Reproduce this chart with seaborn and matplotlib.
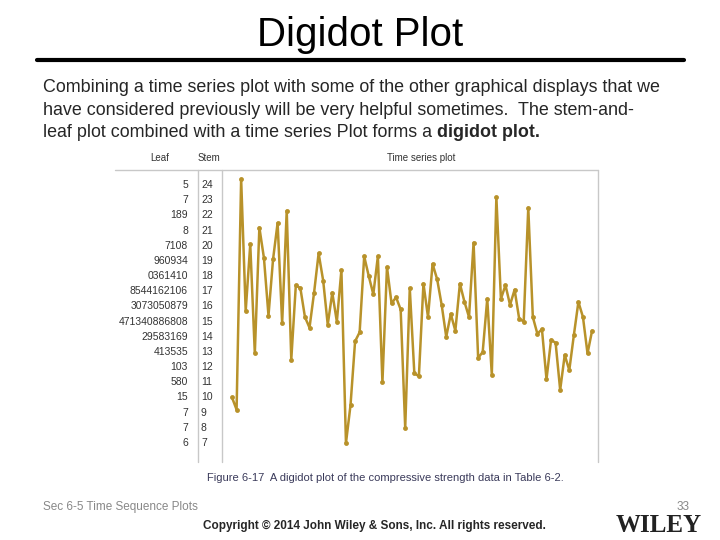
import matplotlib
matplotlib.use("Agg")
import matplotlib.pyplot as plt
import seaborn as sns
import pandas as pd

# compressive strength readings (x10), in time order
strength = [10.0, 9.2, 24.4, 15.7, 20.1, 12.9, 21.2, 19.2, 15.4, 19.1,
            21.5, 14.9, 22.3, 12.5, 17.4, 17.2, 15.3, 14.6, 16.9, 19.5,
            17.7, 14.8, 16.9, 15.0, 18.4, 7.0, 9.5, 13.7, 14.3, 19.3,
            18.0, 16.8, 19.3, 11.0, 18.6, 16.2, 16.6, 15.8, 8.0, 17.2,
            11.6, 11.4, 17.5, 15.3, 18.8, 17.8, 16.1, 14.0, 15.5, 14.4,
            17.5, 16.3, 15.3, 20.2, 12.6, 13.0, 16.5, 11.5, 23.2, 16.5,
            17.4, 16.1, 17.1, 15.2, 15.0, 22.5, 15.3, 14.2, 14.5, 11.2,
            13.8, 13.6, 10.5, 12.8, 11.8, 14.1, 16.3, 15.3, 12.9, 14.4]
stems = [24, 23, 22, 21, 20, 19, 18, 17, 16, 15, 14, 13, 12, 11, 10, 9, 8, 7]
leaves = ["5", "7", "189", "8", "7108", "960934", "0361410", "8544162106",
          "3073050879", "471340886808", "29583169", "413535", "103", "580",
          "15", "7", "7", "6"]

df = pd.DataFrame({"t": range(len(strength)), "v": strength})

W, H = 720, 540
fig = plt.figure(figsize=(7.2, 5.4), dpi=100)
sns.set_style("white")
plt.rcParams["font.family"] = "Liberation Sans"

def fx(px): return px / W
def fy(py): return 1 - py / H

ylim = (5.75, 24.99)
ax = fig.add_axes([fx(222), fy(462), fx(598) - fx(222), fy(170) - fy(462)])
sns.lineplot(data=df, x="t", y="v", ax=ax, color="#b8922a", lw=1.8,
             marker="o", markersize=3.5, markeredgewidth=0)
ax.set_xlim(-2.2, 80.3)
ax.set_ylim(*ylim)
ax.set_xticks([]); ax.set_yticks([])
ax.set_xlabel(""); ax.set_ylabel("")
for s in ax.spines.values():
    s.set_visible(False)

# stem-and-leaf panel
ax2 = fig.add_axes([fx(115), fy(462), fx(222) - fx(115), fy(170) - fy(462)])
ax2.set_xlim(115, 222); ax2.set_ylim(*ylim); ax2.axis("off")
for st, lf in zip(stems, leaves):
    ax2.text(188, st, lf, ha="right", va="center", fontsize=7.5, color="#333333")
    ax2.text(201, st, str(st), ha="left", va="center", fontsize=7.5, color="#333333")

grey = "#c8c8c8"
fig.add_artist(plt.Line2D([fx(115), fx(598)], [fy(170), fy(170)], color=grey, lw=1))
fig.add_artist(plt.Line2D([fx(198), fx(198)], [fy(170), fy(462)], color=grey, lw=1))
fig.add_artist(plt.Line2D([fx(222), fx(222)], [fy(170), fy(462)], color=grey, lw=1))
fig.add_artist(plt.Line2D([fx(598), fx(598)], [fy(170), fy(462)], color=grey, lw=1))
fig.text(fx(160), fy(158), "Leaf", ha="center", va="center", fontsize=7, color="#333333")
fig.text(fx(209), fy(158), "Stem", ha="center", va="center", fontsize=7, color="#333333")
fig.text(fx(421), fy(158), "Time series plot", ha="center", va="center", fontsize=7, color="#333333")

# slide text
fig.text(fx(360), fy(35), "Digidot Plot", ha="center", va="center", fontsize=29, color="black")
fig.add_artist(plt.Line2D([fx(37), fx(684)], [fy(60), fy(60)], color="black", lw=3))
lines = ["Combining a time series plot with some of the other graphical displays that we",
         "have considered previously will be very helpful sometimes.  The stem-and-",
         "leaf plot combined with a time series Plot forms a "]
for i, s in enumerate(lines):
    t = fig.text(fx(43), fy(88 + i * 22.5), s, ha="left", va="center", fontsize=12.9)
r = fig.canvas.get_renderer()
bb = t.get_window_extent(r)
fig.text(bb.x1 / W, fy(133), "digidot plot.", ha="left", va="center",
         fontsize=12.9, fontweight="bold")

fig.text(fx(385), fy(478), "Figure 6-17  A digidot plot of the compressive strength data in Table 6-2.",
         ha="center", va="center", fontsize=8, color="#3a3a5a")
fig.text(fx(43), fy(507), "Sec 6-5 Time Sequence Plots", ha="left", va="center",
         fontsize=8.5, color="#888888")
fig.text(fx(690), fy(507), "33", ha="right", va="center", fontsize=8.5, color="#888888")
fig.text(fx(374), fy(526), "Copyright \u00a9 2014 John Wiley & Sons, Inc. All rights reserved.",
         ha="center", va="center", fontsize=8.5, fontweight="bold")
fig.text(fx(659), fy(525), "WILEY", ha="center", va="center", fontsize=18,
         fontweight="bold", family="Liberation Serif", color="#222222")

fig.savefig("out.png", dpi=100)
